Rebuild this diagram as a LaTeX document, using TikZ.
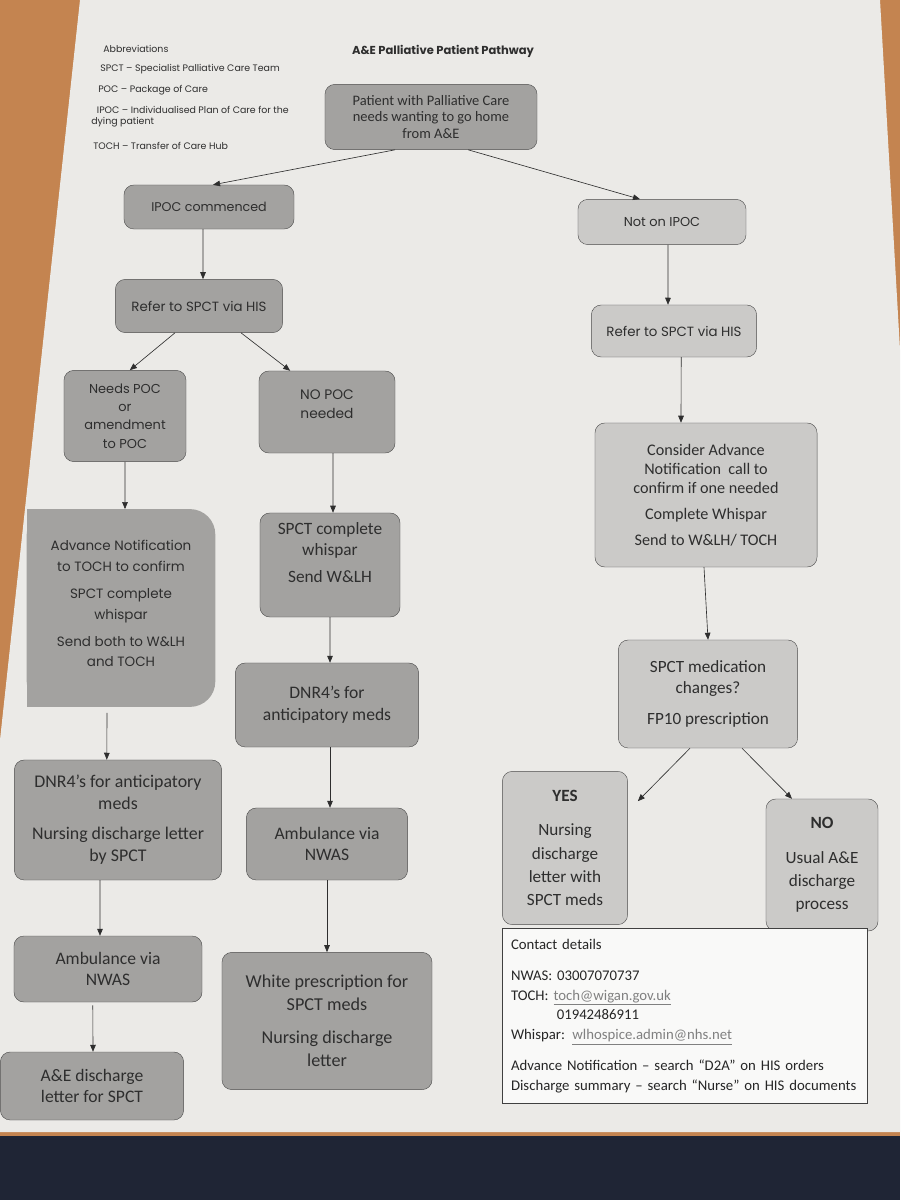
\documentclass[tikz,border=0pt]{standalone}
\usepackage{fontspec}
\setmainfont{Carlito}
\newfontfamily\popfont{Poppins}
\usetikzlibrary{arrows.meta,calc}

\definecolor{paper}{HTML}{EBEAE7}
\definecolor{wood}{HTML}{C48450}
\definecolor{floorblue}{HTML}{1F2535}
\definecolor{boxdark}{HTML}{A3A2A0}
\definecolor{boxlight}{HTML}{CBCAC8}
\definecolor{inkgrey}{HTML}{2E2E2E}
\newcommand\lnk[1]{\textcolor{gray}{\underline{#1}}}

\begin{document}
\begin{tikzpicture}[x=0.025cm, y=-0.025cm,
        box/.style={rectangle, rounded corners=7pt, draw=gray!60!black, line width=0.3pt, fill=boxdark, align=center, inner sep=2pt, text=inkgrey},
        lbox/.style={box, fill=boxlight},
        abbrev/.style={anchor=west, align=left, inner sep=0pt, text=inkgrey, font=\popfont\fontsize{6.7}{8}\selectfont},
        arr/.style={-{Triangle[length=5pt,width=4pt]}, draw=inkgrey, line width=0.45pt}]

        \useasboundingbox (0,0) rectangle (900,1200);
        \fill[wood] (0,0) rectangle (900,1200);
        \fill[paper] (80,0) -- (880,0) -- (900,350) -- (900,1132) -- (0,1132) -- (0,740) -- cycle;
        \fill[floorblue] (0,1136) rectangle (900,1200);

        \node[abbrev] (abbr) at (103,49) {Abbreviations};
        \node[abbrev] (abspct) at (100,69) {SPCT – Specialist Palliative Care Team};
        \node[abbrev] (abpoc) at (98,90) {POC – Package of Care};
        \node[abbrev] (abipoc) at (91,117) {\hspace*{0.6em}IPOC – Individualised Plan of Care for the\\dying patient};
        \node[abbrev] (abtoch) at (93,146) {TOCH – Transfer of Care Hub};
        \node[text=inkgrey, font=\popfont\bfseries\fontsize{8.2}{9}\selectfont] (title) at (443,51) {A\&E Palliative Patient Pathway};

        \node[box, minimum width=5.3cm, minimum height=1.63cm, font=\fontsize{10.3}{12}\selectfont] (start) at (431,117) {Patient with Palliative Care\\needs wanting to go home\\from A\&E};
        \node[box, minimum width=4.25cm, minimum height=1.1cm, font=\popfont\fontsize{9}{10}\selectfont] (ipoc) at (209,207) {IPOC commenced};
        \node[lbox, minimum width=4.2cm, minimum height=1.13cm, font=\popfont\fontsize{9.2}{10}\selectfont] (noipoc) at (662,222) {Not on IPOC};
        \node[box, minimum width=4.18cm, minimum height=1.33cm, font=\popfont\fontsize{9.5}{10}\selectfont] (referL) at (199,306) {Refer to SPCT via HIS};
        \node[lbox, minimum width=4.13cm, minimum height=1.3cm, font=\popfont\fontsize{9.5}{10}\selectfont] (referR) at (674,331) {Refer to SPCT via HIS};
        \node[box, minimum width=3.05cm, minimum height=2.28cm, font=\popfont\fontsize{9.2}{13}\selectfont] (needs) at (125,416) {Needs POC\\or\\amendment\\to POC};
        \node[box, minimum width=3.4cm, minimum height=2.05cm, font=\popfont\fontsize{9.8}{13}\selectfont] (nopoc) at (327,412) {NO POC\\needed\\[-2pt]};

        \node[minimum width=4.7cm, minimum height=4.93cm, inner sep=0pt] (advbox) at (121,608) {};
        \fill[boxdark, rounded corners=18pt] (advbox.north west) rectangle (advbox.south east);
        \fill[boxdark] (advbox.north west) rectangle ($(advbox.south west)+(30,0)$);
        \node[align=center, text=inkgrey, font=\popfont\fontsize{9.6}{14.5}\selectfont] (adv) at ([yshift=3pt]advbox.center) {Advance Notification\\to TOCH to confirm\\[5pt]SPCT complete\\whispar\\[5pt]Send both to W\&LH\\and TOCH};

        \node[box, minimum width=3.5cm, minimum height=2.6cm, font=\fontsize{12.3}{14.5}\selectfont] (spctw) at (330,565) {SPCT complete\\whispar\\[5pt]Send W\&LH\\[3pt]};
        \node[box, minimum width=4.58cm, minimum height=2.1cm, font=\fontsize{12.5}{15.5}\selectfont] (dnrM) at (327,705) {DNR4’s for\\anticipatory meds};
        \node[box, minimum width=4.03cm, minimum height=1.8cm, font=\fontsize{12.5}{15.5}\selectfont] (ambM) at (327,844) {Ambulance via\\NWAS};
        \node[box, minimum width=5.25cm, minimum height=3.43cm, font=\fontsize{12.9}{16.5}\selectfont] (white) at (327,1021) {White prescription for\\SPCT meds\\[7pt]Nursing discharge\\letter};

        \node[box, minimum width=5.18cm, minimum height=3cm, font=\fontsize{12.7}{15.5}\selectfont] (dnrL) at (118,820) {DNR4’s for anticipatory\\meds\\[6pt]Nursing discharge letter\\by SPCT};
        \node[box, minimum width=4.7cm, minimum height=1.65cm, font=\fontsize{12.5}{15.5}\selectfont] (ambL) at (108,969) {Ambulance via\\NWAS};
        \node[box, minimum width=4.58cm, minimum height=1.7cm, font=\fontsize{12.5}{15.5}\selectfont] (aeL) at (92,1086) {A\&E discharge\\letter for SPCT};

        \node[lbox, minimum width=5.55cm, minimum height=3.6cm, font=\fontsize{11.5}{13.5}\selectfont] (consider) at (706,495) {Consider Advance\\Notification\ \ call to\\confirm if one needed\\[5pt]Complete Whispar\\[5pt]Send to W\&LH/ TOCH};
        \node[lbox, minimum width=4.48cm, minimum height=2.7cm, font=\fontsize{12.2}{15}\selectfont] (med) at (708,694) {SPCT medication\\changes?\\[7pt]FP10 prescription};
        \node[lbox, minimum width=3.13cm, minimum height=3.83cm, font=\fontsize{12.2}{16.5}\selectfont] (yes) at (565,848) {\textbf{YES}\\[8pt]Nursing\\discharge\\letter with\\SPCT meds};
        \node[lbox, minimum width=2.8cm, minimum height=3.3cm, font=\fontsize{12.2}{16.5}\selectfont] (no) at (822,865) {\textbf{NO}\\[8pt]Usual A\&E\\discharge\\process};

        \node[rectangle, draw=black!75, line width=0.6pt, fill=white!70!paper, anchor=north west, minimum width=9.13cm, minimum height=4.38cm, text width=8.7cm, align=left, inner xsep=0.2cm, text=black!85, font=\fontsize{10.5}{14}\selectfont] (contact) at (502,928) {Contact details\\[8pt]NWAS: 03007070737\\TOCH: \lnk{toch@wigan.gov.uk}\\\hspace*{3.1em}01942486911\\Whispar: \lnk{wlhospice.admin@nhs.net}\\[8pt]Advance Notification – search “D2A” on HIS orders\\Discharge summary – search “Nurse” on HIS documents};

        \draw[arr] ([xshift=-0.9cm]start.south) -- ([xshift=0.1cm]ipoc.north);
        \draw[arr] ([xshift=0.93cm]start.south) -- ([xshift=-0.55cm]noipoc.north);
        \draw[arr] ([xshift=-0.15cm]ipoc.south) -- ([xshift=0.1cm]referL.north);
        \draw[arr] ([xshift=0.15cm]noipoc.south) -- ([xshift=-0.15cm]referR.north);
        \draw[arr] ([xshift=-0.6cm]referL.south) -- ([xshift=0.12cm]needs.north);
        \draw[arr] ([xshift=1.05cm]referL.south) -- ([xshift=-0.92cm]nopoc.north);
        \draw[arr] ([xshift=0.18cm]referR.south) -- ([xshift=-0.625cm]consider.north);
        \draw[arr] (needs.south) -- ([xshift=0.1cm]advbox.north);
        \draw[arr] ([xshift=0.15cm]nopoc.south) -- ([xshift=0.075cm]spctw.north);
        \draw[arr] ([xshift=-0.05cm]consider.south) -- (med.north);
        \draw[arr] ([xshift=-0.35cm,yshift=-0.15cm]advbox.south) -- ([xshift=-0.28cm]dnrL.north);
        \draw[arr] (spctw.south) -- ([xshift=0.075cm]dnrM.north);
        \draw[arr] ([xshift=-0.45cm]med.south) -- ($(yes.north east)+(10,30)$);
        \draw[arr] ([xshift=0.85cm]med.south) -- ([xshift=-0.75cm]no.north);
        \draw[arr] ([xshift=-0.45cm]dnrL.south) -- ([xshift=-0.2cm]ambL.north);
        \draw[arr] ([xshift=0.075cm]dnrM.south) -- ([xshift=0.075cm]ambM.north);
        \draw[arr] ([xshift=-0.38cm,yshift=-0.08cm]ambL.south) -- ([xshift=0.025cm]aeL.north);
        \draw[arr] (ambM.south) -- (white.north);
\end{tikzpicture}
\end{document}
